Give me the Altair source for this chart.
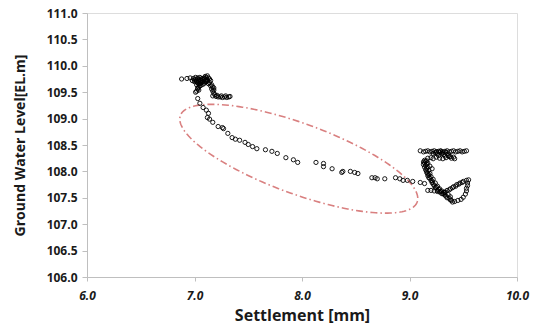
import altair as alt
import numpy as np
import pandas as pd

# Settlement [mm]
settle = [
    # top-left cluster
    6.88, 6.93, 6.96, 6.99, 7.01, 7.03, 7.05, 7.07, 7.09, 7.11, 7.13, 7.14, 7.12, 7.10, 7.08, 7.06,
    7.04, 7.02, 7.00, 6.98, 7.03, 7.05, 7.07, 7.09, 7.11, 7.02, 7.04, 7.03, 7.02, 7.06, 7.10, 7.12,
    7.01, 7.03, 7.05, 7.07, 7.09, 7.11, 7.00, 7.02, 7.04, 7.06, 7.08, 7.10, 7.04, 7.08, 7.05, 7.03,
    7.04, 7.01, 7.12, 7.13, 7.15,
    # branch
    7.14, 7.16, 7.17, 7.16, 7.17, 7.18, 7.19, 7.17, 7.20, 7.22, 7.24, 7.26, 7.28, 7.30, 7.32, 7.33,
    7.15, 7.18, 7.18, 7.21, 7.25, 7.29,
    # main path
    7.03, 7.05, 7.08, 7.11, 7.13, 7.12, 7.14, 7.17, 7.22, 7.26, 7.27, 7.31, 7.35, 7.38, 7.42, 7.47,
    7.50, 7.54, 7.58, 7.66, 7.72, 7.77, 7.85, 7.92, 7.96, 8.13, 8.20, 8.20, 8.28, 8.37, 8.38, 8.45,
    8.49, 8.52, 8.65, 8.68, 8.70, 8.77, 8.87, 8.91, 8.94, 8.98, 9.03, 9.10, 9.14,
    # right cluster: top band
    9.10, 9.13, 9.15, 9.17, 9.19, 9.21, 9.23, 9.25, 9.27, 9.29, 9.31, 9.33, 9.35, 9.37, 9.39, 9.41,
    9.43, 9.45, 9.47, 9.49, 9.51, 9.53,
    9.24, 9.26, 9.28, 9.30, 9.32, 9.27, 9.34, 9.25, 9.22, 9.29, 9.31, 9.36,
    # second row
    9.17, 9.20, 9.22, 9.25, 9.28, 9.31, 9.34, 9.37, 9.39, 9.41, 9.42, 9.33, 9.36, 9.38,
    # descent
    9.14, 9.14, 9.15, 9.16, 9.16, 9.17, 9.17, 9.18, 9.20, 9.21, 9.23, 9.24, 9.26, 9.28, 9.31, 9.33,
    9.35, 9.38, 9.40,
    9.15, 9.16, 9.17, 9.18, 9.19, 9.20, 9.22, 9.24, 9.26, 9.28, 9.30, 9.33, 9.36, 9.38,
    9.13, 9.13, 9.14, 9.15, 9.16, 9.18, 9.19, 9.21, 9.22, 9.25, 9.27, 9.29, 9.32, 9.34, 9.37, 9.39,
    9.16, 9.17, 9.19, 9.21,
    # bottom-left row
    9.17, 9.20, 9.23, 9.26,
    # rising
    9.30, 9.32, 9.35, 9.38, 9.41, 9.44, 9.47, 9.50, 9.53, 9.55,
    9.33, 9.37, 9.40, 9.43, 9.46, 9.49,
    # right side
    9.54, 9.54, 9.53, 9.53, 9.52, 9.50, 9.48, 9.45, 9.42,
]

# Ground water level [EL.m]
gwl = [
    109.75, 109.76, 109.77, 109.76, 109.78, 109.77, 109.78, 109.76, 109.77, 109.78, 109.77, 109.75,
    109.73, 109.72, 109.74, 109.72, 109.73, 109.71, 109.73, 109.72, 109.68, 109.66, 109.69, 109.67,
    109.70, 109.64, 109.60, 109.56, 109.52, 109.63, 109.80, 109.81,
    109.74, 109.75, 109.74, 109.73, 109.75, 109.74, 109.70, 109.69, 109.70, 109.68, 109.70, 109.69,
    109.66, 109.65, 109.62, 109.58, 109.54, 109.50, 109.71, 109.66, 109.72,
    109.68, 109.64, 109.60, 109.56, 109.52, 109.48, 109.45, 109.43, 109.42, 109.41, 109.41, 109.40,
    109.41, 109.40, 109.41, 109.42,
    109.62, 109.58, 109.54, 109.44, 109.43, 109.43,
    109.38, 109.29, 109.21, 109.16, 109.10, 109.02, 108.99, 108.93, 108.85, 108.83, 108.81, 108.72,
    108.64, 108.61, 108.59, 108.55, 108.51, 108.47, 108.43, 108.41, 108.38, 108.34, 108.26, 108.22,
    108.17, 108.17, 108.15, 108.09, 108.05, 107.98, 108.00, 108.00, 107.98, 107.96, 107.88, 107.88,
    107.86, 107.86, 107.88, 107.86, 107.83, 107.83, 107.81, 107.79, 107.77,
    108.39, 108.37, 108.38, 108.39, 108.37, 108.38, 108.39, 108.37, 108.38, 108.39, 108.37, 108.38,
    108.39, 108.37, 108.38, 108.39, 108.37, 108.38, 108.39, 108.37, 108.38, 108.39,
    108.35, 108.33, 108.36, 108.34, 108.32, 108.30, 108.36, 108.37, 108.34, 108.38, 108.35, 108.33,
    108.25, 108.26, 108.24, 108.27, 108.25, 108.24, 108.26, 108.28, 108.25, 108.27, 108.24, 108.29,
    108.30, 108.28,
    108.21, 108.16, 108.11, 108.06, 108.01, 107.96, 107.92, 107.88, 107.83, 107.79, 107.73, 107.69,
    107.64, 107.61, 107.58, 107.55, 107.50, 107.46, 107.42,
    108.19, 108.14, 108.08, 108.02, 107.96, 107.90, 107.85, 107.78, 107.72, 107.67, 107.63, 107.60,
    107.56, 107.52,
    108.18, 108.13, 108.08, 108.03, 107.98, 107.93, 107.87, 107.82, 107.76, 107.70, 107.66, 107.62,
    107.57, 107.53, 107.49, 107.45,
    108.20, 108.16, 108.10, 108.05,
    107.64, 107.64, 107.63, 107.62,
    107.58, 107.60, 107.64, 107.67, 107.71, 107.75, 107.78, 107.81, 107.83, 107.84,
    107.61, 107.65, 107.69, 107.72, 107.76, 107.79,
    107.78, 107.73, 107.68, 107.63, 107.57, 107.51, 107.47, 107.45, 107.43,
]

x_ticks = [6.0, 7.0, 8.0, 9.0, 10.0]
y_ticks = [106.0, 106.5, 107.0, 107.5, 108.0, 108.5, 109.0, 109.5, 110.0, 110.5, 111.0]

# Annotation ellipse (centre, semi-axes in axis units, tilt)
ell_cx, ell_cy = 7.97, 108.24
ell_a_px, ell_b_px, ell_tilt_deg = 126.0, 35.0, 20.0
px_per_x, px_per_y = 107.5, 52.6

pts = pd.DataFrame({"settle": settle, "gwl": gwl})

t = np.linspace(0, 2 * np.pi, 181)
th = np.deg2rad(ell_tilt_deg)
dx = ell_a_px * np.cos(t) * np.cos(th) - ell_b_px * np.sin(t) * np.sin(th)
dy = ell_a_px * np.cos(t) * np.sin(th) + ell_b_px * np.sin(t) * np.cos(th)
ell = pd.DataFrame({
    "ex": ell_cx + dx / px_per_x,
    "ey": ell_cy - dy / px_per_y,
    "order": np.arange(len(t)),
})

FONT = "Open Sans"

xscale = alt.Scale(domain=[6, 10], nice=False, zero=False)
yscale = alt.Scale(domain=[106, 111], nice=False, zero=False)

xaxis = alt.Axis(
    values=x_ticks, format=".1f", grid=False, title="Settlement [mm]",
    labelFont=FONT, labelFontWeight="bold", labelFontStyle="italic", labelFontSize=12,
    labelColor="#1a1a1a", labelPadding=9, tickSize=4, tickColor="#bfbfbf",
    labelFlush=False, labelOverlap=False,
    domainColor="#bfbfbf", titleFont=FONT, titleFontSize=16, titleFontWeight="bold",
    titleColor="#1a1a1a", titlePadding=6,
)
yaxis = alt.Axis(
    values=y_ticks, format=".1f", grid=False, title="Ground Water Level[EL.m]",
    labelFont=FONT, labelFontWeight="bold", labelFontSize=12, labelColor="#1a1a1a",
    labelFlush=False, labelOverlap=False,
    labelPadding=5, tickSize=5, tickColor="#bfbfbf", domainColor="#bfbfbf",
    titleFont=FONT, titleFontSize=14, titleFontWeight="bold", titleColor="#1a1a1a",
    titlePadding=19,
)

points = alt.Chart(pts).mark_point(
    shape="circle", filled=False, color="black", size=18, strokeWidth=1, opacity=0.9
).encode(
    x=alt.X("settle:Q", scale=xscale, axis=xaxis),
    y=alt.Y("gwl:Q", scale=yscale, axis=yaxis),
)

ellipse = alt.Chart(ell).mark_line(
    color="#d98080", strokeWidth=1.6, strokeDash=[7, 3, 1.5, 3]
).encode(
    x=alt.X("ex:Q", scale=xscale, axis=xaxis),
    y=alt.Y("ey:Q", scale=yscale, axis=yaxis),
    order="order:Q",
)

chart = alt.layer(ellipse, points).properties(
    width=430, height=264,
    autosize=alt.AutoSizeParams(type="none"),
    padding={"left": 87, "top": 13, "right": 19, "bottom": 49},
).configure_view(stroke=None).configure(background="white")

chart.save("out.html", embed_options={"renderer": "svg", "actions": False})
